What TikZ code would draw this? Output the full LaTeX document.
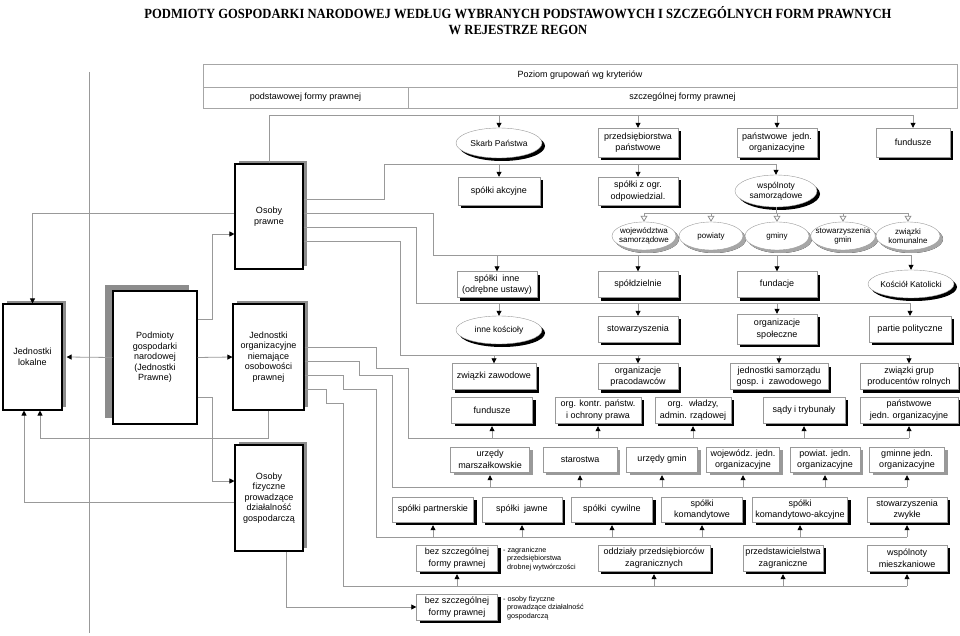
\documentclass[tikz,border=0pt]{standalone}
\usepackage{fontspec}
\usepackage{graphicx}
\setmainfont{Liberation Sans}
\newfontfamily\titlefont{Liberation Serif}
\usetikzlibrary{arrows.meta}
\usetikzlibrary{positioning}
\usetikzlibrary{shadows}
\usetikzlibrary{shapes.geometric}
\tikzset{wire/.style = {draw=black!40, line width=0.8pt}}
\tikzset{arr/.style = {-{Triangle[length=5pt, width=5pt, color=black]}}}
\tikzset{harr/.style = {-{Triangle[open, length=6pt, width=7pt, color=black!45, fill=white]}}}
\tikzset{card/.style = {draw=black!40, fill=white, align=center, inner sep=1pt,
                        minimum height=26pt, font=\fontsize{9}{11.5}\selectfont}}
\tikzset{box/.style = {card, drop shadow={shadow xshift=3pt, shadow yshift=-3pt,
                                          fill=black, opacity=1}}}
\tikzset{gbox/.style = {card, drop shadow={shadow xshift=3pt, shadow yshift=-3pt,
                                           fill=black!40, opacity=1}}}
\tikzset{oval/.style = {ellipse, draw=black!40, fill=white, inner sep=0pt, inner xsep=-3pt,
                        align=center, font=\fontsize{8.5}{10}\selectfont,
                        drop shadow={shadow xshift=3pt, shadow yshift=-3pt, fill=black, opacity=1}}}
\tikzset{goval/.style = {oval, inner xsep=-4.5pt, minimum width=64pt, minimum height=28pt,
                         font=\fontsize{8}{9.5}\selectfont,
                         drop shadow={shadow xshift=3pt, shadow yshift=-3pt, fill=black!35, opacity=1}}}
\tikzset{bigbox/.style = {draw=black, line width=1.1pt, fill=white, align=center, inner sep=1pt,
                          font=\fontsize{9}{10.5}\selectfont}}
\tikzset{bshadow/.style = {general shadow={shadow xshift=4pt, shadow yshift=3pt, fill=black!45}}}
\tikzset{cell/.style = {draw=black!35, line width=0.6pt, inner sep=0pt, font=\fontsize{9}{11}\selectfont}}
\tikzset{note/.style = {anchor=west, align=left, inner sep=0pt, font=\fontsize{7.2}{8.5}\selectfont}}

\begin{document}
\begin{tikzpicture}[x=1pt, y=-1pt]
    \useasboundingbox (0,0) rectangle (960,636);

    \node [align=center, inner sep=0pt, font=\titlefont\bfseries\fontsize{14}{16}\selectfont] (title) at (518,21)
        {\scalebox{0.9}[1]{PODMIOTY GOSPODARKI NARODOWEJ WEDŁUG WYBRANYCH PODSTAWOWYCH I SZCZEGÓLNYCH FORM PRAWNYCH}\\
         \scalebox{0.9}[1]{W REJESTRZE REGON}};

    \node [cell, minimum width=754pt, minimum height=23pt] (hdr) at (580,75.5) {Poziom grupowań wg kryteriów};
    \node [cell, minimum width=205pt, minimum height=21pt] (hdra) at (305.5,97.5) {podstawowej formy prawnej};
    \node [cell, minimum width=549pt, minimum height=21pt] (hdrb) at (682.5,97.5) {szczególnej formy prawnej};

    \node [bigbox, bshadow, minimum width=59pt, minimum height=106pt] (jlok) at (32.5,357) {Jednostki\\lokalne};
    \node [bigbox, general shadow={shadow xshift=-8pt, shadow yshift=6pt, fill=black!45},
           minimum width=84pt, minimum height=133pt] (podm) at (155,357.5)
          {Podmioty\\gospodarki\\narodowej\\(Jednostki\\Prawne)};
    \node [bigbox, bshadow, minimum width=68pt, minimum height=105pt] (oprawne) at (269,216.5) {Osoby\\prawne};
    \node [bigbox, bshadow, minimum width=71pt, minimum height=106pt] (jorg) at (268.5,357)
          {Jednostki\\organizacyjne\\niemające\\osobowości\\prawnej};
    \node [bigbox, bshadow, minimum width=68pt, minimum height=106pt] (ofiz) at (269,498)
          {Osoby\\fizyczne\\prowadzące\\działalność\\gospodarczą};

    \node [oval, minimum width=86pt, minimum height=30pt] (skarb) at (499,143) {Skarb Państwa};
    \node [box, minimum width=80pt, minimum height=29pt] (przeds) at (638,142.5) {przedsiębiorstwa\\państwowe};
    \node [box, minimum width=80pt, minimum height=29pt] (pjo) at (777,142.5) {państwowe~ jedn.\\organizacyjne};
    \node [box, minimum width=74pt, minimum height=29pt] (fund1) at (913,142.5) {fundusze};

    \node [box, minimum width=82pt, minimum height=28pt] (akcyjne) at (499,191) {spółki akcyjne};
    \node [box, minimum width=80pt, minimum height=28pt] (zogr) at (638,191) {spółki z ogr.\\odpowiedzial.};
    \node [oval, minimum width=82pt, minimum height=32pt] (wspol) at (776,191) {wspólnoty\\samorządowe};

    \node [goval] (wojew) at (644,236) {województwa\\samorządowe};
    \node [goval] (powiaty) at (711,236) {powiaty};
    \node [goval] (gminy) at (777,236) {gminy};
    \node [goval] (stowg) at (843,236) {stowarzyszenia\\gmin};
    \node [goval] (zwkom) at (908,236) {związki\\komunalne};

    \node [box, minimum width=80pt] (sinne) at (497,284.5) {spółki~ inne\\(odrębne ustawy)};
    \node [box, minimum width=80pt] (spoldz) at (638,284.5) {spółdzielnie};
    \node [box, minimum width=80pt] (fundacje) at (777,284.5) {fundacje};
    \node [oval, minimum width=86pt, minimum height=28pt] (kosciol) at (911,284) {Kościół Katolicki};

    \node [oval, minimum width=86pt, minimum height=28pt] (innek) at (499,330) {inne kościoły};
    \node [box, minimum width=80pt] (stow) at (638,329) {stowarzyszenia};
    \node [box, minimum width=80pt, minimum height=30pt] (orgsp) at (777,329) {organizacje\\społeczne};
    \node [box, minimum width=82pt] (partie) at (910,329) {partie polityczne};

    \node [box, minimum width=84pt] (zwzaw) at (494,376.5) {związki zawodowe};
    \node [box, minimum width=80pt] (orgprac) at (638,376.5) {organizacje\\pracodawców};
    \node [box, minimum width=98pt] (jsam) at (779,376.5) {jednostki samorządu\\gosp. i~ zawodowego};
    \node [box, minimum width=98pt] (zwgrup) at (909,376.5) {związki grup\\producentów rolnych};

    \node [box, minimum width=81pt] (fund2) at (492,410) {fundusze};
    \node [box, minimum width=86pt] (orgk) at (598,410) {org. kontr. państw.\\i ochrony prawa};
    \node [box, minimum width=76pt] (orgw) at (693,410) {org.~ władzy,\\admin. rządowej};
    \node [box, minimum width=82pt] (sady) at (804,410) {sądy i trybunały};
    \node [box, minimum width=98pt] (pjo2) at (909,410) {państwowe\\jedn. organizacyjne};

    \node [gbox, minimum width=79pt, minimum height=25pt] (umarsz) at (490,459.5) {urzędy\\marszałkowskie};
    \node [gbox, minimum width=74pt, minimum height=25pt] (starost) at (580,459.5) {starostwa};
    \node [gbox, minimum width=71pt, minimum height=25pt] (ugmin) at (662,459.5) {urzędy gmin};
    \node [gbox, minimum width=73pt, minimum height=25pt] (wojj) at (743,459.5) {wojewódz. jedn.\\organizacyjne};
    \node [gbox, minimum width=70pt, minimum height=25pt] (powj) at (825,459.5) {powiat. jedn.\\organizacyjne};
    \node [gbox, minimum width=75pt, minimum height=25pt] (gmj) at (907,459.5) {gminne jedn.\\organizacyjne};

    \node [box, minimum width=81pt, minimum height=25pt] (partn) at (433,509.5) {spółki partnerskie};
    \node [box, minimum width=80pt, minimum height=25pt] (jawne) at (522,509.5) {spółki~ jawne};
    \node [box, minimum width=81pt, minimum height=25pt] (cywil) at (612,509.5) {spółki~ cywilne};
    \node [box, minimum width=81pt, minimum height=25pt] (koman) at (702,509.5) {spółki\\komandytowe};
    \node [box, minimum width=95pt, minimum height=25pt] (komak) at (800,509.5) {spółki\\komandytowo-akcyjne};
    \node [box, minimum width=80pt, minimum height=25pt] (stzw) at (907,509.5) {stowarzyszenia\\zwykłe};

    \node [box, minimum width=81pt] (bez1) at (457,558) {bez szczególnej\\formy prawnej};
    \node [box, minimum width=112pt] (oddz) at (654,558) {oddziały przedsiębiorców\\zagranicznych};
    \node [box, minimum width=80pt] (przedst) at (783,558) {przedstawicielstwa\\zagraniczne};
    \node [box, minimum width=80pt] (wspm) at (907,558) {wspólnoty\\mieszkaniowe};
    \node [box, minimum width=81pt] (bez2) at (457,607) {bez szczególnej\\formy prawnej};

    \node [note] (nzagr) at (503,559) {- zagraniczne\\\hspace*{4pt}przedsiębiorstwa\\\hspace*{4pt}drobnej wytwórczości};
    \node [note] (nosob) at (503,608) {- osoby fizyczne\\\hspace*{4pt}prowadzące działalność\\\hspace*{4pt}gospodarczą};

    \draw [wire] (89,72) -- (89,633);

    \draw [wire, arr] (podm.west) -- ([xshift=4pt]jlok.east);
    \draw [wire, arr] (podm.east) -- (jorg.west);
    \draw [wire, arr] (podm.east |- 0,319) -| (212,234) -- (oprawne.west |- 0,234);
    \draw [wire, arr] (podm.east |- 0,397) -| (212,481) -- (ofiz.west |- 0,481);
    \draw [wire, arr] (oprawne.west |- 0,213) -| (jlok.north);
    \draw [wire, arr] (jorg.south) |- (40,438) -- ([xshift=7.5pt]jlok.south);
    \draw [wire, arr] (ofiz.west |- 0,502) -| ([xshift=-8.5pt]jlok.south);

    \draw [wire] (oprawne.north) |- (fund1 |- 0,115);
    \foreach \n in {skarb,przeds,pjo,fund1}
        \draw [wire, arr] (\n |- 0,115) -- (\n);

    \draw [wire] (oprawne.east |- 0,199) -| (384,164) -- (wspol |- 0,164);
    \foreach \n in {akcyjne,zogr,wspol}
        \draw [wire, arr] (\n |- 0,164) -- (\n);

    \draw [wire] (wspol.south) -- (wspol.south |- 0,213);
    \draw [wire] (wojew |- 0,213) -- (zwkom |- 0,213);
    \foreach \n in {wojew,powiaty,gminy,stowg,zwkom}
        \draw [wire, harr] (\n |- 0,213) -- (\n);

    \draw [wire] (oprawne.east |- 0,213) -| (433,255) -- (kosciol |- 0,255);
    \foreach \n in {sinne,spoldz,fundacje,kosciol}
        \draw [wire, arr] (\n |- 0,255) -- (\n);

    \draw [wire] (oprawne.east |- 0,227) -| (416,303) -- (partie |- 0,303);
    \foreach \n in {innek,stow,orgsp,partie}
        \draw [wire, arr] (\n |- 0,303) -- (\n);

    \draw [wire] (oprawne.east |- 0,241) -| (400,355) -- (zwgrup |- 0,355);
    \foreach \n in {zwzaw,orgprac,jsam,zwgrup}
        \draw [wire, arr] (\n |- 0,355) -- (\n);

    \draw [wire] (jorg.east |- 0,347) -| (376,368) -| (408,438) -- (pjo2 |- 0,438);
    \foreach \n in {fund2,orgk,orgw,sady,pjo2}
        \draw [wire, arr, shorten >=3pt] (\n |- 0,438) -- (\n);

    \draw [wire] (jorg.east |- 0,361) -| (359,375) -| (392,487) -- (gmj |- 0,487);
    \foreach \n in {umarsz,starost,ugmin,wojj,powj,gmj}
        \draw [wire, arr, shorten >=3pt] (\n |- 0,487) -- (\n);

    \draw [wire] (jorg.east |- 0,375) -| (343,389) -| (376,537) -- (stzw |- 0,537);
    \foreach \n in {partn,jawne,cywil,koman,komak,stzw}
        \draw [wire, arr, shorten >=3pt] (\n |- 0,537) -- (\n);

    \draw [wire] (jorg.east |- 0,389) -| (326,403) -| (343,586) -- (wspm |- 0,586);
    \foreach \n in {bez1,oddz,przedst,wspm}
        \draw [wire, arr, shorten >=3pt] (\n |- 0,586) -- (\n);

    \draw [wire, arr] ([xshift=17pt]ofiz.south) |- (bez2);
\end{tikzpicture}
\end{document}
